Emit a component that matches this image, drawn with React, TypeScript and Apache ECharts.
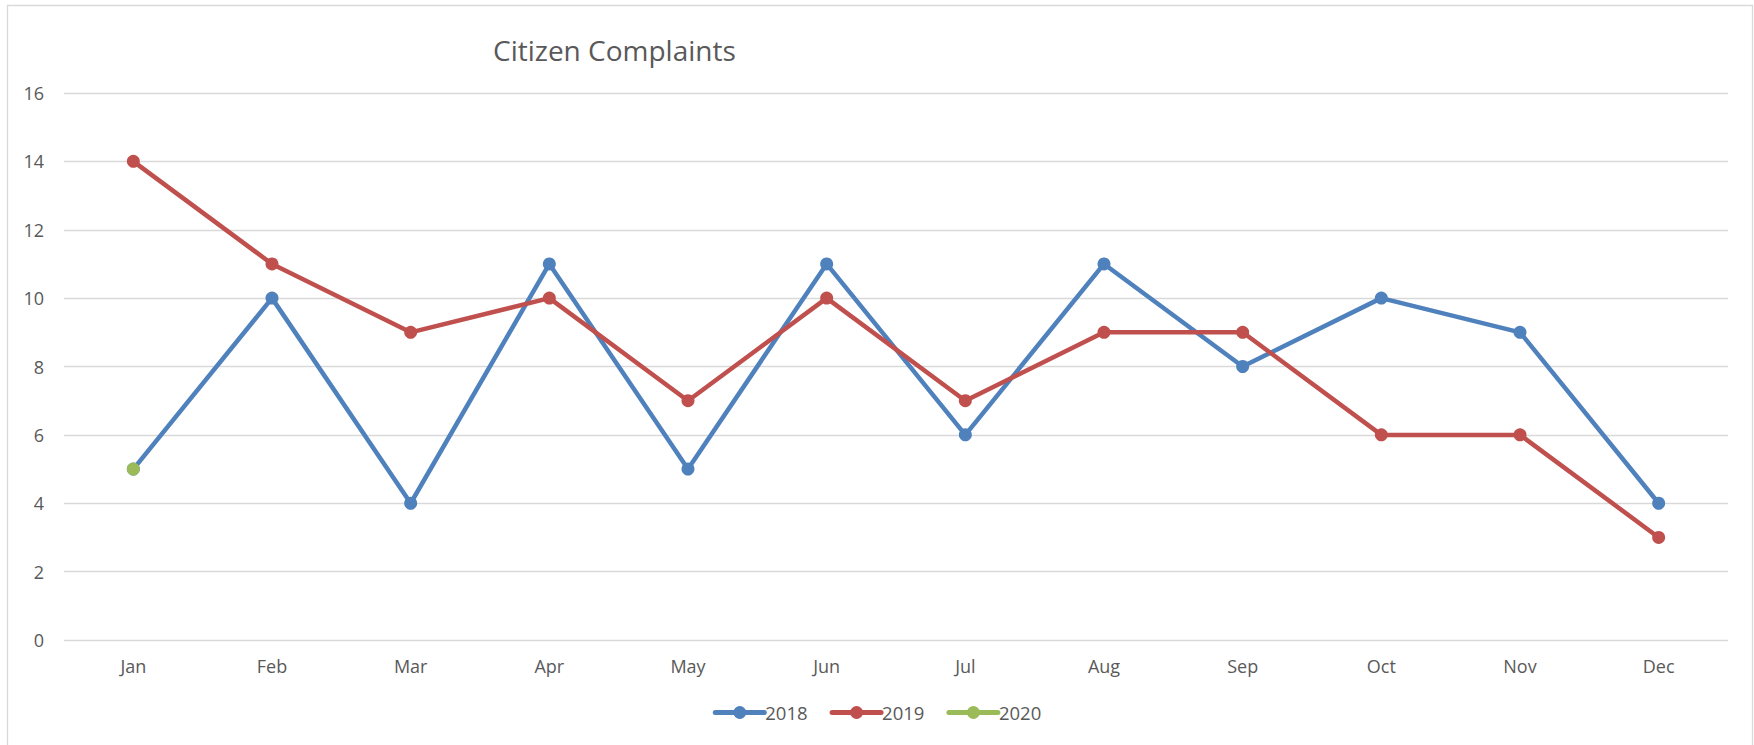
import React, { useEffect, useRef } from "react";
import * as echarts from "echarts";

const months = ["Jan", "Feb", "Mar", "Apr", "May", "Jun", "Jul", "Aug", "Sep", "Oct", "Nov", "Dec"];
const s2018 = [5, 10, 4, 11, 5, 11, 6, 11, 8, 10, 9, 4];
const s2019 = [14, 11, 9, 10, 7, 10, 7, 9, 9, 6, 6, 3];
const s2020 = [5, null, null, null, null, null, null, null, null, null, null, null];
const seriesNames = ["2018", "2019", "2020"];
const colors = ["#4F81BD", "#C0504D", "#9BBB59"];

export default function App() {
  const ref = useRef<HTMLDivElement>(null);
  useEffect(() => {
    const chart = echarts.init(ref.current!, null, { renderer: "svg" });
    const font = "'Open Sans', Lato, sans-serif";
    const data = [s2018, s2019, s2020];
    chart.setOption({
      animation: false,
      backgroundColor: "#ffffff",
      textStyle: { fontFamily: font },
      title: {
        text: "Citizen Complaints",
        left: 488,
        top: 31,
        textStyle: { fontSize: 28, fontWeight: "normal", color: "#595959", fontFamily: font },
      },
      grid: { left: 64, right: 26, top: 93, bottom: 105 },
      legend: {
        data: seriesNames,
        bottom: 18,
        left: "center",
        itemWidth: 49,
        itemHeight: 16,
        itemGap: 22,
        lineStyle: { width: 5 },
        textStyle: { fontSize: 18.5, color: "#595959", padding: [0, 0, 0, -4] },
      },
      xAxis: {
        type: "category",
        data: months,
        boundaryGap: true,
        axisLine: { show: false },
        axisTick: { show: false },
        axisLabel: { fontSize: 18, color: "#595959", margin: 17 },
      },
      yAxis: {
        type: "value",
        min: 0,
        max: 16,
        interval: 2,
        axisLine: { show: false },
        axisTick: { show: false },
        axisLabel: { fontSize: 18, color: "#595959", margin: 20 },
        splitLine: { lineStyle: { color: "#D9D9D9", width: 1.3 } },
      },
      graphic: [
        {
          type: "rect",
          shape: { x: 7.5, y: 5.5, width: 1745, height: 800 },
          style: { fill: "none", stroke: "#D9D9D9", lineWidth: 1.3 },
          silent: true,
        },
      ],
      series: seriesNames.map((name, i) => ({
        name,
        type: "line",
        data: data[i],
        symbol: "circle",
        symbolSize: 13,
        showAllSymbol: true,
        connectNulls: false,
        itemStyle: { color: colors[i] },
        lineStyle: { color: colors[i], width: 4.5, cap: "round", join: "round" },
        z: 2 + i,
      })),
    });
    return () => chart.dispose();
  }, []);
  return (
    <div
      ref={ref}
      style={{ position: "fixed", left: 0, top: 0, width: 1754, height: 745 }}
    />
  );
}
